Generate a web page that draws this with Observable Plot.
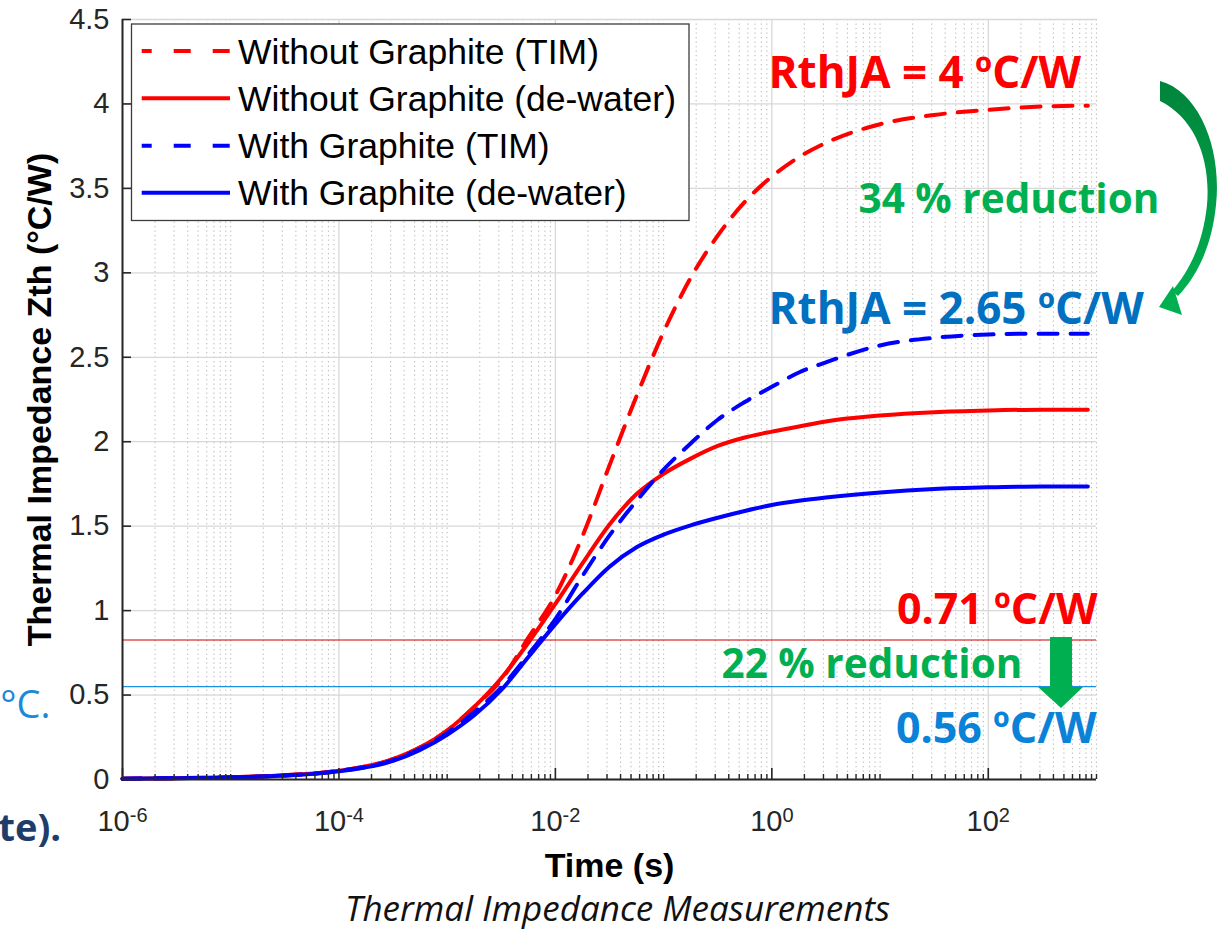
<!DOCTYPE html>
<html><head><meta charset="utf-8">
<script src="https://cdn.jsdelivr.net/npm/d3@7"></script>
<script src="https://cdn.jsdelivr.net/npm/@observablehq/plot@0.6"></script>
<style>body{margin:0;background:#fff;} #chart{width:1217px;height:930px;overflow:hidden;}</style>
</head><body><div id="chart"></div>
<script>
// ---- data ----
const logTime = [-6,-5.5,-5,-4.5,-4,-3.5,-3,-2.75,-2.5,-2.25,-2,-1.75,-1.5,-1.25,-1,-0.75,-0.5,-0.25,0,0.25,0.5,1,1.5,2,2.5,2.92];
const noGraphiteTIM = [0.005,0.008,0.013,0.025,0.052,0.12,0.29,0.43,0.59,0.84,1.09,1.44,1.86,2.27,2.65,2.97,3.22,3.42,3.57,3.685,3.77,3.88,3.935,3.965,3.985,3.99];
const noGraphiteDW  = [0.005,0.008,0.013,0.025,0.052,0.12,0.29,0.43,0.6,0.81,1.04,1.28,1.51,1.69,1.81,1.90,1.975,2.025,2.06,2.09,2.12,2.155,2.175,2.185,2.19,2.19];
const graphiteTIM   = [0.005,0.008,0.012,0.024,0.05,0.115,0.275,0.40,0.545,0.74,0.95,1.205,1.445,1.65,1.835,1.99,2.13,2.235,2.325,2.41,2.47,2.57,2.615,2.635,2.64,2.64];
const graphiteDW    = [0.005,0.008,0.012,0.023,0.048,0.11,0.265,0.38,0.53,0.725,0.92,1.10,1.26,1.375,1.45,1.505,1.55,1.59,1.625,1.65,1.67,1.70,1.72,1.73,1.735,1.735];
const seriesNames = ["Without Graphite (TIM)","Without Graphite (de-water)","With Graphite (TIM)","With Graphite (de-water)"];
const refLevels = [0.826, 0.55];           // horizontal reference lines
const yTicks = [0,0.5,1,1.5,2,2.5,3,3.5,4,4.5];
const xMajorExp = [-6,-4,-2,0,2];
const xDomain = [1e-6, 1e3];
const annotations = ["RthJA = 4 ºC/W","34 % reduction","RthJA = 2.65 ºC/W","0.71 ºC/W","22 % reduction","0.56 ºC/W"];

// ---- build ----
const seriesValues = [noGraphiteTIM, noGraphiteDW, graphiteTIM, graphiteDW];
const seriesColor = ["#ff0000","#ff0000","#0000ff","#0000ff"];
const seriesDash = ["19,13", null, "19,13", null];
const toRows = vals => logTime.map((lt,i)=>({t: 10**lt, z: vals[i]}));
const xMajor = xMajorExp.map(e => 10**e);
const xMinor = [];
for (let e=-6; e<=2; e++) for (let k=1; k<=9; k++) { if (!(k===1 && e%2===0)) xMinor.push(k*10**e); }
xMinor.push(1e3);

const AX = "#262626";
const frameH = 779 - 19, frameW = 1217 - 122 - 121;
const annFont = "'Open Sans', 'Noto Sans', sans-serif";
const ann = (i, dx, dy, anchor, size, fill) => Plot.text([annotations[i]], {frameAnchor: "top-left", dx, dy, lineAnchor: "bottom", textAnchor: anchor, text: d => d, fontSize: size, fontWeight: "bold", fontFamily: annFont, fill});

const plot = Plot.plot({
  width: 1217, height: 930,
  marginLeft: 122, marginRight: 121, marginTop: 19, marginBottom: 151,
  style: {fontFamily: "'Liberation Sans', Arial, sans-serif", fontSize: "29px", color: AX, background: "#fff", overflow: "visible"},
  x: {type: "log", domain: xDomain, axis: null},
  y: {domain: [0, 4.5], axis: null},
  marks: [
    Plot.gridX(xMinor, {stroke: "#b4b4b4", strokeOpacity: 0.9, strokeDasharray: "1.3,3.2", strokeWidth: 1.1}),
    Plot.gridX(xMajor, {stroke: "#d8d8d8", strokeOpacity: 1, strokeWidth: 1.3}),
    Plot.gridY(yTicks, {stroke: "#d8d8d8", strokeOpacity: 1, strokeWidth: 1.3}),
    Plot.ruleY([refLevels[0]], {stroke: "#d00000", strokeWidth: 1.2}),
    Plot.ruleY([refLevels[1]], {stroke: "#1a90e0", strokeWidth: 1.2}),
    ...seriesValues.map((vals, i) => Plot.line(toRows(vals), {x: "t", y: "z", stroke: seriesColor[i], strokeWidth: 4, strokeDasharray: seriesDash[i], curve: "monotone-x"})),
    // axes lines
    Plot.ruleX([xDomain[0]], {stroke: AX, strokeWidth: 2}),
    Plot.ruleY([0], {stroke: AX, strokeWidth: 2}),
    // inward ticks
    Plot.tickX(xMajor, {x: d => d, insetTop: frameH - 11, stroke: AX, strokeWidth: 1.6}),
    Plot.tickX(xMinor, {x: d => d, insetTop: frameH - 5, stroke: AX, strokeWidth: 1.4}),
    Plot.tickY(yTicks, {y: d => d, insetRight: frameW - 9, stroke: AX, strokeWidth: 1.6}),
    // tick labels
    Plot.text(yTicks, {y: d => d, frameAnchor: "left", dx: -13, textAnchor: "end", text: d => String(d), fontSize: 29, fill: AX}),
    Plot.text(xMajorExp, {x: d => 10**d, frameAnchor: "bottom", dy: 51, lineAnchor: "bottom", textAnchor: "middle", text: d => `10^${d}`, fontSize: 29, fill: AX}),
    // axis titles
    Plot.text(["Time (s)"], {frameAnchor: "bottom", dy: 97, lineAnchor: "bottom", textAnchor: "middle", text: d => d, fontSize: 34, fontWeight: "bold", fill: "#000"}),
    Plot.text(["Thermal Impedance Zth (°C/W)"], {frameAnchor: "left", dx: -72, rotate: -90, lineAnchor: "bottom", textAnchor: "middle", text: d => d, fontSize: 34, fontWeight: "bold", fill: "#000"}),
    // caption
    Plot.text(["Thermal Impedance Measurements"], {frameAnchor: "bottom", dx: 8, dy: 141, lineAnchor: "bottom", textAnchor: "middle", text: d => d, fontSize: 35, fontStyle: "italic", fontFamily: annFont, fill: "#111"}),
    // annotations
    ann(0, 646, 68, "start", 44, "#ff0000"),
    ann(1, 736, 193, "start", 40.5, "#00b050"),
    ann(2, 646, 304, "start", 44, "#0070c0"),
    ann(3, 975, 604, "end", 43, "#ff0000"),
    ann(4, 599, 658, "start", 40.5, "#00b050"),
    ann(5, 974, 723, "end", 43, "#0a82d8"),
    // cropped slide text at the left edge
    Plot.text(["°C."], {frameAnchor: "top-left", dx: -72, dy: 698, lineAnchor: "bottom", textAnchor: "end", text: d => d, fontSize: 38, fontFamily: annFont, fill: "#1a8ad8"}),
    Plot.text(["te)."], {frameAnchor: "top-left", dx: -124, dy: 821, lineAnchor: "bottom", textAnchor: "start", text: d => d, fontSize: 38, fontWeight: "bold", fontFamily: annFont, fill: "#1f3d6b"})
  ]
});
document.getElementById("chart").append(plot);

const svg = d3.select(plot);
// superscript exponents on x tick labels
svg.selectAll("text").filter(function(){ return /^10\^/.test(this.textContent); }).each(function(){
  const exp = this.textContent.slice(3);
  const t = d3.select(this);
  t.text("10");
  t.append("tspan").attr("dy", "-0.45em").attr("font-size", "20px").text(exp);
});

// legend
const lg = svg.append("g").attr("class", "legend").attr("text-anchor", "start");
lg.append("rect").attr("x", 131.5).attr("y", 24).attr("width", 557.5).attr("height", 196.5)
  .attr("fill", "#fff").attr("stroke", "#3c3c3c").attr("stroke-width", 1.3);
const rowY = [51, 98.3, 145.7, 192.7];
seriesNames.forEach((name, i) => {
  lg.append("line").attr("x1", 141.7).attr("x2", 230).attr("y1", rowY[i]).attr("y2", rowY[i])
    .attr("stroke", seriesColor[i]).attr("stroke-width", 4)
    .attr("stroke-dasharray", seriesDash[i] ? "17,22" : null).attr("stroke-dashoffset", seriesDash[i] ? 7 : null);
  lg.append("text").attr("x", 238).attr("y", rowY[i]).attr("dy", "0.36em").attr("text-anchor", "start")
    .attr("font-family", "'Liberation Sans', Arial, sans-serif").attr("font-size", 35.5).attr("fill", "#000").text(name);
});

// arrows
const defs = svg.append("defs");
const grad = defs.append("linearGradient").attr("id", "garr").attr("x1", 0).attr("y1", 0).attr("x2", 0).attr("y2", 1);
grad.append("stop").attr("offset", "0%").attr("stop-color", "#00843c");
grad.append("stop").attr("offset", "100%").attr("stop-color", "#00b050");
svg.append("path").attr("fill", "url(#garr)")
  .attr("d", "M1160,81 C1200,92 1222,150 1216,205 C1212,245 1198,275 1178,296 L1172,291 C1190,270 1203,243 1207,205 C1211,160 1195,118 1160,101 Z");
svg.append("path").attr("fill", "#00b050").attr("d", "M1159,307 L1173,286 L1182,315 Z");
svg.append("path").attr("fill", "#00b050").attr("d", "M1050,637 L1072,637 L1072,687 L1083,687 L1061,708 L1038,687 L1050,687 Z");
</script>
</body></html>
